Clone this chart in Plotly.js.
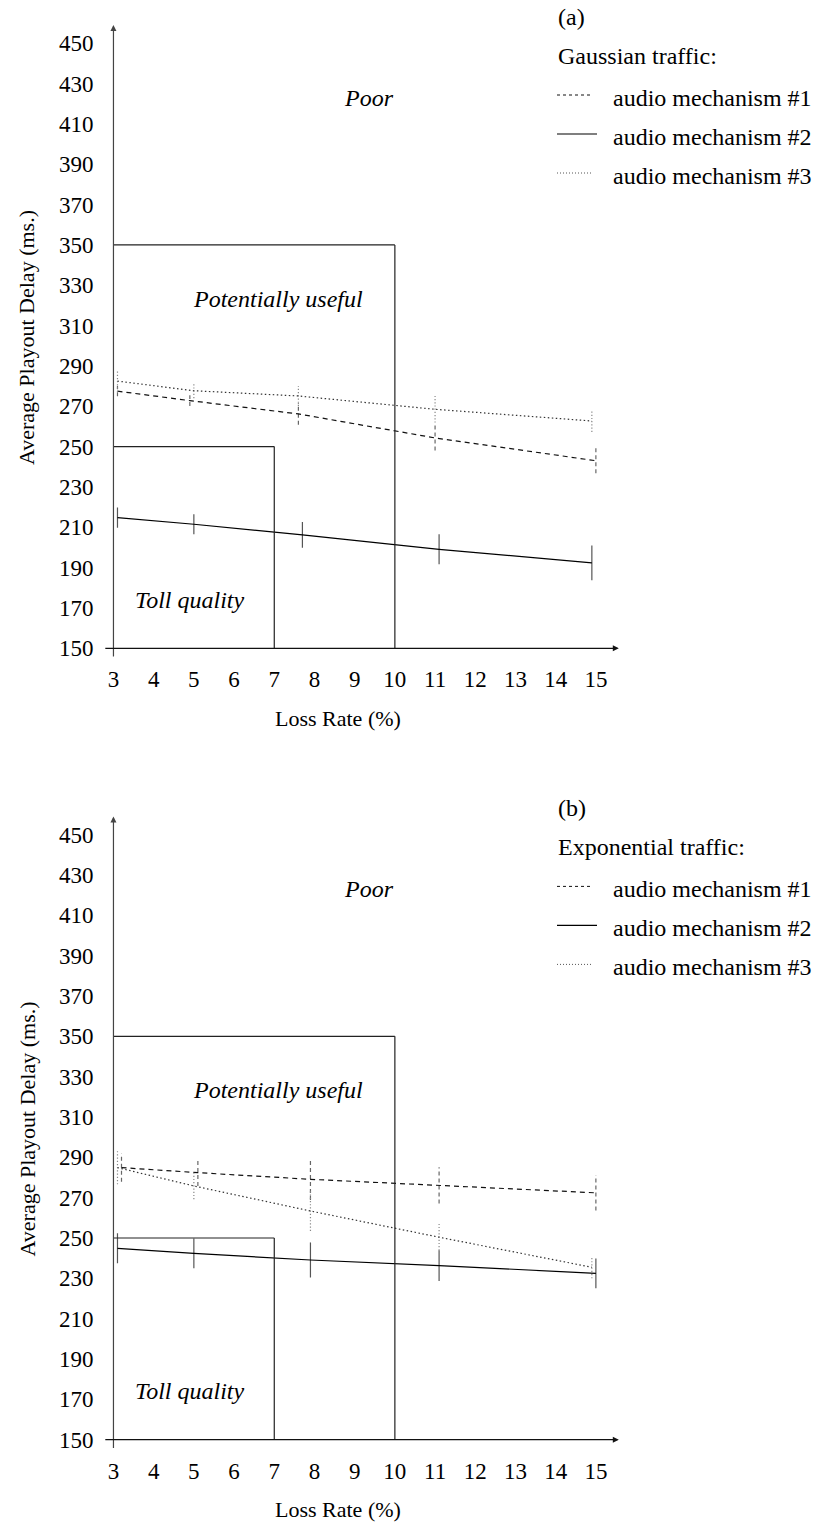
<!DOCTYPE html>
<html><head><meta charset="utf-8">
<script src="https://cdn.plot.ly/plotly-3.0.1.min.js"></script>
</head><body><div id="chart"></div>
<script>
document.body.style.margin = '0';
// ---------- data ----------
const xTicks = [3,4,5,6,7,8,9,10,11,12,13,14,15];
const yTicks = [150,170,190,210,230,250,270,290,310,330,350,370,390,410,430,450];
const seriesNames = ["audio mechanism #1","audio mechanism #2","audio mechanism #3"];
const panelLabels = ["(a)","(b)"];
const trafficLabels = ["Gaussian traffic:","Exponential traffic:"];
const regionNames = ["Poor","Potentially useful","Toll quality"];
const xTitle = "Loss Rate (%)";
const yTitle = "Average Playout Delay (ms.)";
// quality regions: [loss limit, delay limit]
const tollLimit = [7, 250];
const usefulLimit = [10, 350];

// Panel (a) Gaussian traffic
const aLoss1 = [3.1, 4.9, 7.6, 11.0, 15.0];
const aDelay1 = [277.5, 272.8, 266.2, 254.3, 243.0];
const aErr1 = [2.5, 2.7, 5.4, 6.2, 6.2];
const aLoss2 = [3.1, 5.0, 7.7, 11.1, 14.9];
const aDelay2 = [214.8, 211.5, 206.2, 199.1, 192.4];
const aErr2 = [5.0, 5.0, 6.4, 7.4, 8.6];
const aLoss3 = [3.1, 5.0, 7.6, 11.0, 14.9];
const aDelay3 = [282.5, 277.7, 275.1, 268.5, 262.7];
const aErr3 = [5.4, 3.7, 5.0, 6.6, 5.4];

// Panel (b) Exponential traffic
const bLoss1 = [3.2, 5.1, 7.9, 11.1, 15.0];
const bDelay1 = [284.9, 282.4, 279.1, 276.1, 272.4];
const bErr1 = [7.0, 6.6, 10.3, 9.0, 8.7];
const bLoss2 = [3.1, 5.0, 7.9, 11.1, 15.0];
const bDelay2 = [244.9, 242.4, 239.1, 236.3, 232.5];
const bErr2 = [7.4, 7.4, 8.7, 7.6, 7.4];
const bLoss3 = [3.1, 5.0, 7.9, 11.1, 14.9];
const bDelay3 = [284.9, 275.8, 263.4, 250.4, 235.5];
const bErr3 = [8.3, 6.6, 9.9, 6.6, 5.5];

// ---------- styling / layout ----------
const W = 817, H = 1528;
const FONT = "Liberation Serif";
const px = p => p / W;
const py = p => 1 - p / H;
const PANEL_SHIFT = 791.4;

const lineStyles = [
  {color:'#111', width:1.2, dash:'5px,4px'},
  {color:'#000', width:1.2, dash:'solid'},
  {color:'#333', width:1.2, dash:'1.5px,2.5px'}
];
const errStyles = [
  {color:'#666', width:1.2, dash:'4px,3px'},
  {color:'#555', width:1.2, dash:'solid'},
  {color:'#888', width:1.2, dash:'1.2px,2px'}
];

function errSegments(xs, ys, es) {
  const X = [], Y = [];
  xs.forEach((x, i) => { X.push(x, x, null); Y.push(ys[i] - es[i], ys[i] + es[i], null); });
  return {X, Y};
}

const panels = [
  {xa:'x', ya:'y', data:[[aLoss1,aDelay1,aErr1],[aLoss2,aDelay2,aErr2],[aLoss3,aDelay3,aErr3]]},
  {xa:'x2', ya:'y2', data:[[bLoss1,bDelay1,bErr1],[bLoss2,bDelay2,bErr2],[bLoss3,bDelay3,bErr3]]}
];

const traces = [];
panels.forEach(p => {
  p.data.forEach((s, k) => {
    const seg = errSegments(s[0], s[1], s[2]);
    traces.push({x: seg.X, y: seg.Y, xaxis: p.xa, yaxis: p.ya, mode:'lines',
      line: errStyles[k], showlegend:false, hoverinfo:'skip'});
    traces.push({x: s[0], y: s[1], xaxis: p.xa, yaxis: p.ya, mode:'lines',
      line: lineStyles[k], name: seriesNames[k], showlegend:false});
  });
});

const xDomain = [101.4 / W, 620 / W];
const yDomA = [py(658.4), py(19.0)];
const yDomB = [py(658.4 + PANEL_SHIFT), py(19.0 + PANEL_SHIFT)];

function xAxis(anchor) {
  return {domain: xDomain, range:[2.7, 15.6], anchor: anchor, tickvals: xTicks,
    ticktext: xTicks.map(String), showline:false, showgrid:false, zeroline:false,
    ticks:'', ticklabelstandoff: 5, tickfont:{family:FONT, size:23, color:'#000'}, fixedrange:true};
}
function yAxis(anchor, dom) {
  return {domain: dom, range:[145, 462], anchor: anchor, tickvals: yTicks,
    ticktext: yTicks.map(String), showline:false, showgrid:false, zeroline:false,
    ticks:'', ticklabelstandoff: 7, tickfont:{family:FONT, size:23, color:'#000'}, fixedrange:true};
}

const shapes = [];
const annotations = [];
panels.forEach((p, i) => {
  const ln = {color:'#222', width:1.2};
  shapes.push({type:'line', xref:p.xa, yref:p.ya, x0:3, x1:tollLimit[0], y0:tollLimit[1], y1:tollLimit[1], line:ln});
  shapes.push({type:'line', xref:p.xa, yref:p.ya, x0:tollLimit[0], x1:tollLimit[0], y0:150, y1:tollLimit[1], line:ln});
  shapes.push({type:'line', xref:p.xa, yref:p.ya, x0:3, x1:usefulLimit[0], y0:usefulLimit[1], y1:usefulLimit[1], line:ln});
  shapes.push({type:'line', xref:p.xa, yref:p.ya, x0:usefulLimit[0], x1:usefulLimit[0], y0:150, y1:usefulLimit[1], line:ln});

  // axes drawn as arrows
  annotations.push({xref:p.xa, yref:p.ya, axref:p.xa, ayref:p.ya, x:3, y:459, ax:3, ay:145.2,
    text:'', showarrow:true, arrowhead:2, arrowsize:1, arrowwidth:1.2, arrowcolor:'#444'});
  annotations.push({xref:p.xa, yref:p.ya, axref:p.xa, ayref:p.ya, x:15.57, y:150, ax:2.76, ay:150,
    text:'', showarrow:true, arrowhead:2, arrowsize:1, arrowwidth:1.2, arrowcolor:'#111'});

  // region labels
  const it = {family:FONT, size:24, color:'#000', style:'italic'};
  annotations.push({xref:p.xa, yref:p.ya, x:9.36, y:422.8, text:regionNames[0], showarrow:false, font:it});
  annotations.push({xref:p.xa, yref:p.ya, x:7.1, y:323.2, text:regionNames[1], showarrow:false, font:it});
  annotations.push({xref:p.xa, yref:p.ya, x:4.88, y:174, text:regionNames[2], showarrow:false, font:it});

  const off = i * PANEL_SHIFT;
  const tf = {family:FONT, size:22, color:'#000'};
  annotations.push({xref:'paper', yref:'paper', x:px(338), y:py(718 + off), text:xTitle,
    showarrow:false, font:tf, xanchor:'center', yanchor:'middle'});
  annotations.push({xref:'paper', yref:'paper', x:px(27), y:py(338 + off), text:yTitle,
    showarrow:false, font:tf, textangle:-90, xanchor:'center', yanchor:'middle'});

  // legend block
  const lf = {family:FONT, size:24, color:'#000'};
  annotations.push({xref:'paper', yref:'paper', x:px(556), y:py(17 + off), text:panelLabels[i],
    showarrow:false, font:lf, xanchor:'left', yanchor:'middle'});
  annotations.push({xref:'paper', yref:'paper', x:px(556), y:py(56 + off), text:trafficLabels[i],
    showarrow:false, font:lf, xanchor:'left', yanchor:'middle'});
  const rowY = [98, 137, 176];
  const sampleEnd = [592, 597, 592];
  const sampleStyles = [
    {color:'#111', width:1, dash:'3px,3px'},
    {color:'#000', width:1.2, dash:'solid'},
    {color:'#555', width:1, dash:'1px,2px'}
  ];
  for (let k = 0; k < 3; k++) {
    annotations.push({xref:'paper', yref:'paper', x:px(611), y:py(rowY[k] + off), text:seriesNames[k],
      showarrow:false, font:lf, xanchor:'left', yanchor:'middle'});
    shapes.push({type:'line', xref:'paper', yref:'paper', x0:px(557), x1:px(sampleEnd[k]),
      y0:py(rowY[k] - 3 + off), y1:py(rowY[k] - 3 + off), line:sampleStyles[k]});
  }
});

const layout = {
  width: W, height: H, autosize:false,
  margin:{l:0, r:0, t:0, b:0},
  paper_bgcolor:'#fff', plot_bgcolor:'#fff',
  showlegend:false,
  font:{family:FONT, color:'#000'},
  xaxis: xAxis('y'), yaxis: yAxis('x', yDomA),
  xaxis2: xAxis('y2'), yaxis2: yAxis('x2', yDomB),
  shapes: shapes, annotations: annotations
};

Plotly.newPlot('chart', traces, layout, {staticPlot:true});
</script>
</body></html>
